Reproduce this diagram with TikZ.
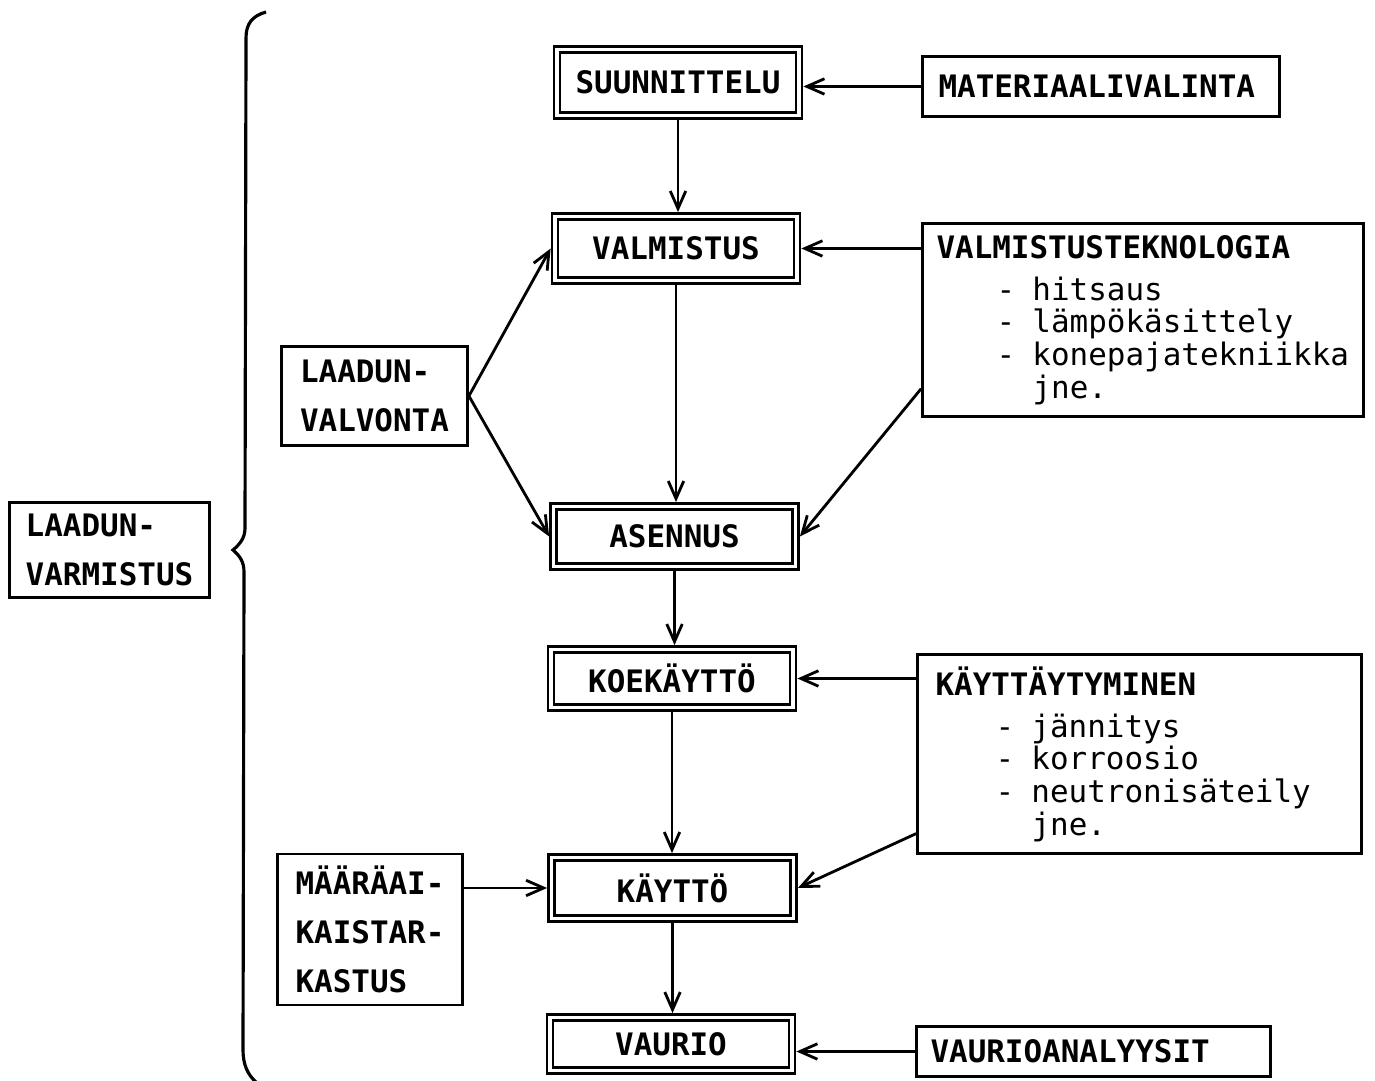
\documentclass[tikz,border=0pt]{standalone}
\usepackage{fontspec}
\setmonofont{DejaVu Sans Mono}
\usetikzlibrary{arrows.meta}

% indented list rows inside the side boxes
\newcommand{\listrow}[1]{\hspace*{0.6cm}\makebox[0.36cm][l]{\mdseries-}{\mdseries#1}}
\newcommand{\listend}[1]{\hspace*{0.96cm}{\mdseries#1}}

\begin{document}
\begin{tikzpicture}[
  >={Straight Barb[length=5pt,width=4.4pt]},
  line width=0.8pt,
  font=\ttfamily\bfseries\fontsize{8.8}{9.3}\selectfont,
  stage/.style={draw, double, double distance=1.1pt, line width=0.7pt,
    outer sep=1.25pt, minimum width=2.42cm},
  side/.style={draw, line width=0.8pt, align=left, inner xsep=0.16cm},
  tall/.style={font=\ttfamily\bfseries\fontsize{8.8}{14}\selectfont}
]
\useasboundingbox (0,0) rectangle (13.75,10.8);

% Stages
\node[stage, minimum height=0.66cm] (suun) at (6.78,9.975) {SUUNNITTELU};
\node[stage, minimum height=0.64cm] (valm) at (6.76,8.315) {VALMISTUS};
\node[stage, minimum height=0.60cm] (asen) at (6.745,5.435) {ASENNUS};
\node[stage, minimum height=0.58cm] (koek) at (6.72,4.015) {KOEKÄYTTÖ};
\node[stage, minimum height=0.61cm] (kaytto) at (6.725,1.92) {KÄYTTÖ};
\node[stage, minimum height=0.53cm] (vaurio) at (6.71,0.36) {VAURIO};

% Right-hand boxes
\node[side, text width=3.25cm, minimum height=0.60cm] (mater) at (11.01,9.935)
  {MATERIAALIVALINTA};
\node[side, inner xsep=0.14cm, text width=4.13cm, minimum height=1.91cm] (vtek) at (11.43,7.60)
  {VALMISTUSTEKNOLOGIA\\[2.6pt]
   \listrow{hitsaus}\\
   \listrow{lämpökäsittely}\\
   \listrow{konepajatekniikka}\\
   \listend{jne.}};
\node[side, inner xsep=0.18cm, text width=4.08cm, minimum height=1.91cm] (kayt) at (11.395,3.26)
  {KÄYTTÄYTYMINEN\\[2.6pt]
   \listrow{jännitys}\\
   \listrow{korroosio}\\
   \listrow{neutronisäteily}\\
   \listend{jne.}};
\node[side, inner xsep=0.14cm, text width=3.26cm, minimum height=0.50cm] (vana) at (10.935,0.285)
  {VAURIOANALYYSIT};

% Left-hand boxes
\node[side, tall, minimum width=1.86cm, minimum height=0.99cm] (lval) at (3.745,6.84)
  {LAADUN-\\VALVONTA};
\node[side, tall, minimum width=1.85cm, minimum height=1.48cm] (maar) at (3.70,1.505)
  {MÄÄRÄAI-\\KAISTAR-\\KASTUS};
\node[side, tall, minimum width=1.96cm, minimum height=0.93cm] (lvar) at (1.095,5.30)
  {LAADUN-\\VARMISTUS};

% Main chain
\foreach \a/\b in {suun/valm, valm/asen, asen/koek, koek/kaytto, kaytto/vaurio}
  \draw[->] (\a.south) -- (\a.south |- \b.north);

% Inputs from the right
\draw[->] (mater.west) -- (mater.west -| suun.east);
\draw[->] (valm.east -| vtek.west) -- (valm.east);
\draw[->] ([yshift=0.29cm]vtek.south west) -- (asen.east);
\draw[->] (koek.east -| kayt.west) -- (koek.east);
\draw[->] ([yshift=0.21cm]kayt.south west) -- (kaytto.east);
\draw[->] (vana.west) -- (vana.west -| vaurio.east);

% Inputs from the left
\draw[->] (lval.east) -- (valm.west);
\draw[->] (lval.east) -- (asen.west);
\draw[->] (kaytto.west -| maar.east) -- (kaytto.west);

% Brace
\draw[line width=0.9pt] (2.66,10.68) .. controls (2.52,10.64) and (2.46,10.56) .. (2.46,10.42)
  -- (2.45,5.52) .. controls (2.45,5.42) and (2.40,5.36) .. (2.33,5.30)
  .. controls (2.40,5.24) and (2.44,5.18) .. (2.44,5.08)
  -- (2.43,0.30) .. controls (2.43,0.15) and (2.48,0.05) .. (2.56,-0.02);

\end{tikzpicture}
\end{document}
